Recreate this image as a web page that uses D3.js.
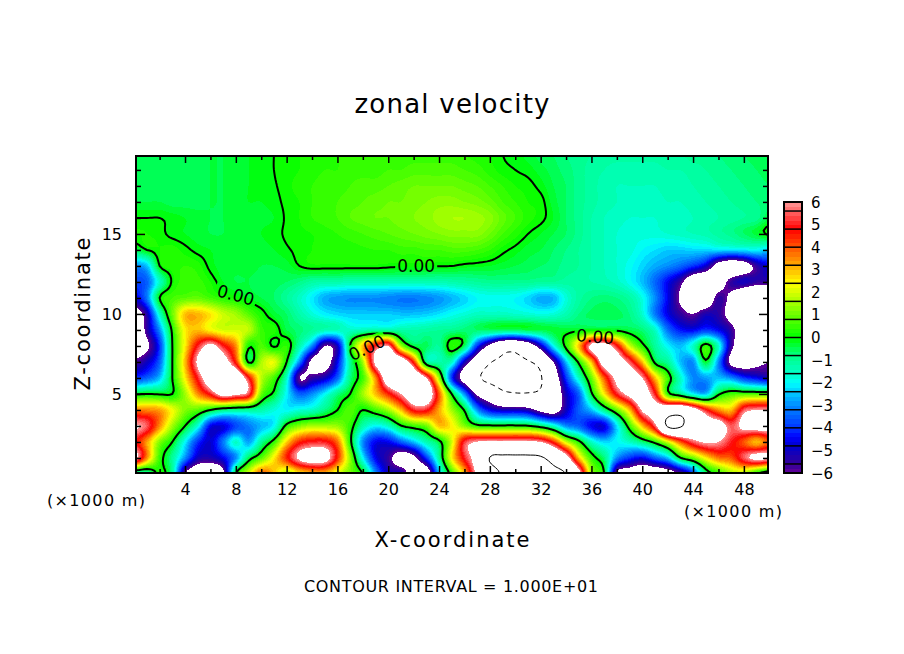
<!DOCTYPE html>
<html>
<head>
<title>zonal velocity</title>
<script src="https://d3js.org/d3.v7.min.js" charset="utf-8"></script>
<style>
  body { margin: 0; background: white; }
  text { font-family: "DejaVu Sans", sans-serif; fill: black; }
</style>
</head>
<body>
<script>
// x grid every 1 km (0..50), one row per km of height
var xGrid = d3.range(0, 51);
var zGrid = d3.range(20, -1, -1);

var u20 = [-.5,-.5,-.5,-.5,-.5,-.5,-.4,-.4,-.3,-.2, -.1,0,.1,.2,.3,.3,.4,.4,.4,.4, .5,.5,.5,.5,.5,.5,.4,.3,.2,0, -.1,-.3,-.5,-.6,-.8,-.9,-1,-1.1,-1.1,-1.1, -1.1,-1.1,-1,-1,-.9,-.9,-.8,-.7,-.6,-.5,-.4];
var u19 = [-.5,-.5,-.5,-.5,-.5,-.5,-.4,-.4,-.3,-.2, -.1,0,.1,.2,.3,.4,.4,.5,.5,.5, .6,.6,.7,.7,.7,.7,.6,.5,.3,.1, 0,-.1,-.3,-.5,-.7,-.9,-1.1,-1.2,-1.3,-1.3, -1.3,-1.3,-1.2,-1.2,-1.1,-1,-.9,-.8,-.7,-.6,-.5];
var u18 = [-.6,-.5,-.5,-.5,-.5,-.5,-.4,-.4,-.3,-.2, -.1,-.03,.12,.3,.4,.5,.5,.6,.7,.7, .8,.9,1,1,1,1,.9,.8,.6,.4, .2,.1,-.1,-.4,-.6,-.9,-1.1,-1.3,-1.4,-1.4, -1.4,-1.4,-1.3,-1.3,-1.2,-1.1,-1,-.9,-.8,-.7,-.6];
var u17 = [-.4,-.4,-.4,-.5,-.5,-.5,-.4,-.4,-.3,-.2, -.2,-.1,.08,.2,.4,.5,.6,.7,.8,.9, 1,1,1.1,1.2,1.3,1.3,1.2,1.1,.9,.6, .4,.2,.1,-.3,-.6,-.9,-1.1,-1.3,-1.4,-1.5, -1.5,-1.5,-1.4,-1.4,-1.3,-1.2,-1.1,-1,-.9,-.8,-.7];
var u16 = [0,0,0,-.1,-.2,-.3,-.4,-.4,-.3,-.3, -.25,-.2,.05,.2,.4,.5,.6,.8,.9,1, 1,1.1,1.2,1.3,1.5,1.6,1.6,1.5,1.3,.9, .6,.3,.1,-.2,-.6,-.9,-1.2,-1.4,-1.5,-1.6, -1.6,-1.6,-1.5,-1.5,-1.4,-1.3,-1.2,-1.1,-1,-.9,-.4];
var u15 = [.2,.2,.1,-.1,-.2,-.3,-.4,-.4,-.3,-.3, -.2,-.1,.05,.15,.2,.3,.4,.5,.6,.7, .8,.9,1,1.1,1.2,1.3,1.3,1.3,1,.6, .3,0,-.2,-.4,-.6,-.9,-1.2,-1.4,-1.6,-1.7, -1.7,-1.7,-1.6,-1.5,-1.4,-1.3,-1.1,-.9,-.6,-.3,.1];
var u14 = [-.5,0,.2,.3,.1,-.1,-.2,-.3,-.3,-.3, -.3,-.2,-.05,.1,.2,.25,.3,.3,.35,.4, .4,.5,.5,.6,.6,.7,.7,.6,.4,.1, -.1,-.3,-.4,-.6,-.8,-1,-1.2,-1.4,-1.6,-1.7, -2,-2.2,-2.4,-2.4,-2.3,-2.3,-2.2,-2.2,-2.1,-2,-2.4];
var u13 = [-3,-2.5,0,.3,.4,.3,-.1,-.3,-.3,-.3, -.4,-.4,-.3,.0,.15,.15,.15,.15,.15,.15, .1,.05,.05,.05,.02,0,-.1,-.15,-.2,-.3, -.4,-.5,-.6,-.7,-.9,-1,-1.2,-1.4,-1.6,-1.9, -2.3,-2.7,-3,-3.4,-4,-4.8,-6.8,-7.5,-7,-5.5,-4.6];
var u12 = [-3.8,-3.5,-1.5,.1,.5,.5,.2,-.2,-.4,-.4, -.5,-.5,-.6,-.8,-1.1,-1.2,-1.2,-1.3,-1.3,-1.3, -1.3,-1.3,-1.3,-1.3,-1.3,-1.2,-1.1,-1,-.9,-.9, -.9,-.9,-1,-1,-1.1,-1.1,-1.2,-1.3,-1.5,-1.9, -2.5,-3.4,-4.5,-5.6,-7.5,-8,-7,-5.5,-5,-5.5,-5.5];
var u11 = [-4.8,-3.2,0,.6,.8,.9,.6,.3,.1,-.2, -.4,-.6,-1,-1.5,-2.1,-2.7,-2.9,-3,-3,-3, -3.1,-3.2,-3.2,-3.1,-2.9,-2.6,-2.3,-2,-1.9,-1.9, -2,-2.3,-2.7,-2.6,-1.7,-1.1,-.8,-.7,-.8,-1.1, -1.8,-3,-4.5,-6.2,-7.6,-7.6,-5.5,-6.5,-8.5,-9,-8.5];
var u10 = [-7,-5.2,-1.5,1,3,3.1,2.6,1.9,1.5,.8, .2,-.3,-.6,-1.2,-1.7,-2.1,-2.3,-2.4,-2.4,-2.4, -2.4,-2.5,-2.5,-2.4,-2.2,-1.9,-1.7,-1.5,-1.5,-1.5, -1.6,-1.7,-1.8,-1.7,-1.3,-.8,-.5,-.4,-.5,-.8, -1.6,-3.2,-4.6,-5.5,-6,-5.2,-5.4,-6.8,-8.5,-9,-9];
var u9 = [-8,-5.5,-3,.2,2.5,3,2.4,2,2,1.8, .5,.3,-.4,-.7,-1,-1.3,-1.4,-1.5,-1.4,-1.2, -1.2,-1.2,-1.2,-1.1,-1,-.9,-.7,-.6,-.5,-.5, -.5,-.4,-.4,-.3,-.3,-.2,-.1,-.1,-.2,-.4, -.7,-1.5,-3.3,-4.3,-4.5,-4,-4.5,-5.5,-7.5,-9,-9];
var u8 = [-7,-6.3,-4,0,2.5,5,6.5,5,3.5,.2, .7,-.1,.4,-1.2,-3,-6,-5,0,3,5, 6,1.5,-.3,-.5,-1,.4,-.5,-4,-6.5,-8.5, -8.8,-7.5,-5,-2,.3,3,6.5,7,5,2, .3,-1,-2,-2.5,-1.5,.4,-1.5,-5.5,-7.5,-8,-8];
var u7 = [-5.8,-5,-3.5,0,3,6.3,8,7,4.5,-.15, 1.6,2.2,0,-3,-6.5,-7,-4.5,-1,1.5,6.5, 8,7.5,4.5,-.8,-1.2,-1.5,-5,-7.5,-9.8,-10.5, -10.5,-10.2,-9,-6,-2.5,.2,3,7,7,5.5, 3,-.2,-1,-2.5,-3,-.2,-3,-6.5,-7,-6.5,-6];
var u6 = [-4,-3.5,-2.5,0,2.5,5,7.5,8,8,5, 1.8,.6,-1.5,-6,-5.5,-5,-3.5,-.8,.6,3.5, 7.5,8,8,6,1.5,-4,-7,-9.5,-10.9,-11.5, -11.5,-11.5,-10.2,-7.5,-4,-1.5,1,4,6.5,7, 6,3,.6,-1.5,-3,-2.8,-2.5,-3,-4,-4.5,-5];
var u5 = [-.1,0,-.1,0,1.5,3.5,5,6.8,6.3,5.5, 1,-.2,-2,-3.5,-3,-2,-.8,0,1.5,3, 4.5,6,7.5,7.5,4,0,-3,-6.3,-7.5,-9.3, -9.8,-9.8,-9.5,-8,-5,-3.5,-.2,2.5,5,6.5, 7,5,.5,-.8,-2,-2.5,-.2,.6,.7,.7,.7];
var u4 = [3.5,3.5,3.3,2.3,1.2,.8,0,-.7,-.9,-1, -1.2,-1.7,-2,-1.7,-1.5,-.8,0,.8,0,.6, 1.5,3,5,5,3.2,1.5,-.1,-3,-4.5,-5, -5,-5.3,-6.5,-7,-5,-3.5,-2.5,-.8,.9,3, 6.2,7,8,8.5,7,5,3.5,3,5.5,6,6];
var u3 = [6.2,5.5,3.5,1.5,0,-1.7,-4.5,-4.7,-3.8,-3.2, -2.6,-2,.3,1.2,1.6,1.5,1.4,.4,-1.2,-2, -1.5,-.1,.5,1,3,2.5,1.2,.3,.2,.2, .2,.1,-.5,-1.5,-3,-3.5,-4.5,-4.7,-2.2,.5, 3,5.5,10.3,10.3,8,7,7,5.5,6.5,7,7];
var u2 = [5,3.3,1.2,0,-2,-4,-4.8,-3.2,-1.5,-2.8, -1,.4,2.8,4.5,5,5,3.8,.3,-3,-4.5, -4.5,-3.5,-2.5,-1.3,-.3,2,5.2,6.1,6.3,6.3, 6.4,6.3,6,4.5,2,.3,-1.5,-2.3,-2,-1.5, -.7,.3,2,4,5.5,6.2,6,5,4,3,4];
var u1 = [6.5,3.5,.5,-1,-3,-5,-5.2,-4.5,-3,-.5, .8,2.5,4.5,6.3,7,6.8,4.5,1.3,-2,-4.5, -5.5,-7,-6.5,-4,-1,2.5,5,7,10.1,10.5, 10.5,10.5,10.3,9,7,3,.5,-.7,-3,-4, -4.5,-3.5,-2.5,-.1,1,2.5,3.7,4,5.5,6.5,6.3];
var u0 = [-1.5,-1.3,.2,-1,-6,-7.5,-8,-6.5,0,2, 4,3,1.5,2.5,3,3,2,1,0,-3, -5,-5,-7,-7.5,-2.5,.5,3,6.5,8.5,10.3, 10.6,10.6,10.6,10.6,10,7,1.5,0,-6.3,-7, -7.5,-7.5,-7,-6,-4,-.7,.3,1.5,1.5,0,-1];
var uRows = [u20,u19,u18,u17,u16,u15,u14,u13,u12,u11,u10,u9,u8,u7,u6,u5,u4,u3,u2,u1,u0];

var xMajor = [4,8,12,16,20,24,28,32,36,40,44,48];
var xMinor = [2,6,10,14,18,22,26,30,34,38,42,46];
var zMajor = [5,10,15];
var zMinor = [1,2,3,4,6,7,8,9,11,12,13,14,16,17,18,19];

// palette
var stopValues = [-6,-5.6,-4.8,-4.4,-4,-3.2,-2.4,-2,-1.6,-.8,0,.8,1.6,2.4,3.2,4,4.8,5.6,6];
var stopColors = ["#660099","#330099","#0000cc","#0000ff","#0033ff","#0077ff","#00ccff","#00ffff","#00ffcc","#00ff88","#00ff00","#55ff00","#aaff00","#ffff00","#ffaa00","#ff5500","#ff0000","#ff6666","#ff9999"];
var barBreaks = [-5.6,-4.8,-4,-3.2,-2.4,-1.6,-.8,0,.8,1.6,2.4,3.2,4,4.8,5.6];
var barLabels = [-6,-5,-4,-3,-2,-1,0,1,2,3,4,5,6];

var zeroLabels = [
  {x: 22.2, z: 13.0, a: 0},
  {x: 8.0, z: 11.2, a: 15},
  {x: 18.3, z: 7.9, a: -25},
  {x: 36.3, z: 8.6, a: 5}
];

var width = 904, height = 654;
var left = 136, right = 768, top_ = 156, bottom = 473;

var x = d3.scaleLinear().domain([0.14, 49.9]).range([left, right]);
var y = d3.scaleLinear().domain([0.06, 19.87]).range([bottom, top_]);
var color = d3.scaleLinear().domain(stopValues).range(stopColors);

var svg = d3.select("body").append("svg")
  .attr("width", width).attr("height", height)
  .style("display", "block");

// catmull-rom refinement so the bands come out smooth
var k = 5;
function cr(p0, p1, p2, p3, t) {
  return 0.5 * (2*p1 + (p2-p0)*t + (2*p0-5*p1+4*p2-p3)*t*t + (3*p1-p0-3*p2+p3)*t*t*t);
}
function refine(line) {
  var out = [], n = line.length;
  for (var i = 0; i < n-1; i++) {
    for (var s = 0; s < k; s++) {
      out.push(cr(line[Math.max(i-1,0)], line[i], line[i+1], line[Math.min(i+2,n-1)], s/k));
    }
  }
  out.push(line[n-1]);
  return out;
}
var fineRows = uRows.map(refine);
var nx = fineRows[0].length;
var fineCols = d3.range(nx).map(function(i) { return refine(fineRows.map(function(r) { return r[i]; })); });
var ny = fineCols[0].length;
var values = new Array(nx*ny);
for (var j = 0; j < ny; j++) for (var i = 0; i < nx; i++) values[j*nx+i] = fineCols[i][j];

var contours = d3.contours().size([nx, ny]);
var path = d3.geoPath(d3.geoTransform({
  point: function(gx, gy) {
    this.stream.point(x((gx-0.5)/k), y(20-(gy-0.5)/k));
  }
}));

var defs = svg.append("defs");
defs.append("clipPath").attr("id", "plot")
  .append("rect").attr("x", left).attr("y", top_).attr("width", right-left).attr("height", bottom-top_);
var mask = defs.append("mask").attr("id", "gaps").attr("maskUnits", "userSpaceOnUse")
  .attr("x", 0).attr("y", 0).attr("width", width).attr("height", height);
mask.append("rect").attr("width", width).attr("height", height).attr("fill", "white");
mask.selectAll("rect.gap").data(zeroLabels).enter().append("rect")
  .attr("class", "gap").attr("x", -21).attr("y", -9).attr("width", 42).attr("height", 18).attr("fill", "black")
  .attr("transform", function(d) { return "translate(" + x(d.x) + "," + y(d.z) + ") rotate(" + d.a + ")"; });

var g = svg.append("g").attr("clip-path", "url(#plot)");

// stacked filled bands, below -6 and above 6 stay white
var levels = d3.range(-30, 30).map(function(d) { return d/5; });
g.selectAll("path.band").data(contours.thresholds(levels)(values)).enter().append("path")
  .attr("class", "band")
  .attr("d", path)
  .attr("fill", function(d) { return color(d.value + 0.1); })
  .attr("shape-rendering", "crispEdges");
g.append("path").datum(contours.contour(values, 6)).attr("d", path).attr("fill", "white").attr("shape-rendering", "crispEdges");

// contour lines: interval 10, zero is heavy, negative dashed
var lines = svg.append("g").attr("clip-path", "url(#plot)").append("g").attr("mask", "url(#gaps)");
lines.append("path").datum(contours.contour(values, 0)).attr("d", path)
  .attr("fill", "none").attr("stroke", "black").attr("stroke-width", 2);
lines.append("path").datum(contours.contour(values, 10)).attr("d", path)
  .attr("fill", "none").attr("stroke", "black").attr("stroke-width", 1);
lines.append("path").datum(contours.contour(values, -10)).attr("d", path)
  .attr("fill", "none").attr("stroke", "black").attr("stroke-width", 1).attr("stroke-dasharray", "5,4");

svg.selectAll("text.zero").data(zeroLabels).enter().append("text")
  .attr("class", "zero")
  .attr("transform", function(d) { return "translate(" + x(d.x) + "," + y(d.z) + ") rotate(" + d.a + ")"; })
  .attr("text-anchor", "middle").attr("dy", "0.37em")
  .style("font-size", "17px")
  .text("0.00");

// frame and inward ticks
function noLine(sel) { sel.select(".domain").remove(); sel.selectAll("line").attr("stroke-width", 1.5); sel.selectAll("text").style("font-size", "16px").attr("fill", "black"); }
var fmt = d3.format("d");
svg.append("g").attr("transform", "translate(0," + bottom + ")")
  .call(d3.axisBottom(x).tickValues(xMajor).tickSizeInner(-7).tickSizeOuter(0).tickPadding(11).tickFormat(fmt)).call(noLine);
svg.append("g").attr("transform", "translate(0," + bottom + ")")
  .call(d3.axisBottom(x).tickValues(xMinor).tickSizeInner(-4).tickSizeOuter(0).tickFormat("")).call(noLine);
svg.append("g").attr("transform", "translate(0," + top_ + ")")
  .call(d3.axisTop(x).tickValues(xMajor).tickSizeInner(-7).tickSizeOuter(0).tickFormat("")).call(noLine);
svg.append("g").attr("transform", "translate(0," + top_ + ")")
  .call(d3.axisTop(x).tickValues(xMinor).tickSizeInner(-4).tickSizeOuter(0).tickFormat("")).call(noLine);
svg.append("g").attr("transform", "translate(" + left + ",0)")
  .call(d3.axisLeft(y).tickValues(zMajor).tickSizeInner(-9).tickSizeOuter(0).tickPadding(14).tickFormat(fmt)).call(noLine);
svg.append("g").attr("transform", "translate(" + left + ",0)")
  .call(d3.axisLeft(y).tickValues(zMinor).tickSizeInner(-5).tickSizeOuter(0).tickFormat("")).call(noLine);
svg.append("g").attr("transform", "translate(" + right + ",0)")
  .call(d3.axisRight(y).tickValues(zMajor).tickSizeInner(-9).tickSizeOuter(0).tickFormat("")).call(noLine);
svg.append("g").attr("transform", "translate(" + right + ",0)")
  .call(d3.axisRight(y).tickValues(zMinor).tickSizeInner(-5).tickSizeOuter(0).tickFormat("")).call(noLine);
svg.append("rect").attr("x", left).attr("y", top_).attr("width", right-left).attr("height", bottom-top_)
  .attr("fill", "none").attr("stroke", "black").attr("stroke-width", 2);

// colour bar
var barX = 784, barW = 18;
var barY = d3.scaleLinear().domain([-6, 6]).range([473, 202]);
svg.selectAll("rect.shade").data(d3.range(-30, 30).map(function(d) { return d/5; })).enter().append("rect")
  .attr("class", "shade")
  .attr("x", barX).attr("width", barW)
  .attr("y", function(d) { return barY(d + 0.2); })
  .attr("height", function(d) { return barY(d) - barY(d + 0.2) + 0.5; })
  .attr("fill", function(d) { return color(d + 0.1); })
  .attr("shape-rendering", "crispEdges");
svg.selectAll("line.brk").data(barBreaks).enter().append("line")
  .attr("class", "brk")
  .attr("x1", barX).attr("x2", barX + barW)
  .attr("y1", function(d) { return barY(d); }).attr("y2", function(d) { return barY(d); })
  .attr("stroke", "black").attr("stroke-width", 1.5);
svg.append("rect").attr("x", barX).attr("y", 202).attr("width", barW).attr("height", 271)
  .attr("fill", "none").attr("stroke", "black").attr("stroke-width", 2);
svg.selectAll("text.lab").data(barLabels).enter().append("text")
  .attr("class", "lab")
  .attr("x", 811)
  .attr("y", function(d) { return barY(d); })
  .attr("dy", "0.37em")
  .style("font-size", "15px")
  .text(function(d) { return d < 0 ? "\u2212" + (-d) : d; });

// titles
function label(str, px, py, size, len, rot) {
  var t = svg.append("text")
    .attr("text-anchor", "middle")
    .style("font-size", size + "px")
    .attr("textLength", len).attr("lengthAdjust", "spacing")
    .text(str);
  if (rot) t.attr("transform", "translate(" + px + "," + py + ") rotate(" + rot + ")");
  else t.attr("x", px).attr("y", py);
}
label("zonal velocity", 452, 113, 26, 195);
label("X-coordinate", 452, 547, 21, 155);
label("Z-coordinate", 90, 314, 21, 153, -90);
label("CONTOUR INTERVAL = 1.000E+01", 451, 592, 16, 294);
label("(\u00d71000 m)", 96, 506, 16, 98);
label("(\u00d71000 m)", 733, 517, 16, 98);
</script>
</body>
</html>
